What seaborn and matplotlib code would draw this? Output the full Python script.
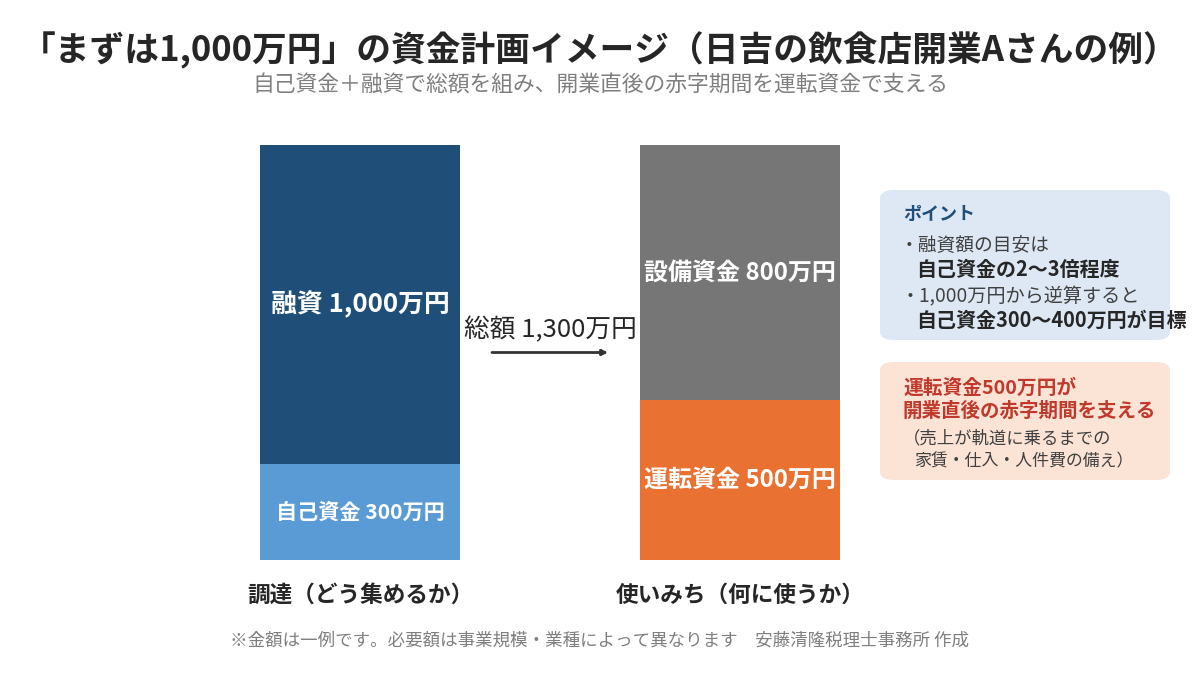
import pandas as pd
import seaborn as sns
import matplotlib.pyplot as plt
from matplotlib.patches import FancyBboxPatch

sns.set_theme(style="white")
plt.rcParams['font.family'] = ['Noto Sans CJK JP', 'DejaVu Sans']

# データ
categories = ["調達（どう集めるか）", "使いみち（何に使うか）"]
bottom_names = ["自己資金", "運転資金"]
bottom_values = [300, 500]
top_names = ["融資", "設備資金"]
top_values = [1000, 800]
total_label = "総額 1,300万円"

c_top = ["#1f4e79", "#767676"]
c_bottom = ["#5b9bd5", "#e97132"]

df = pd.DataFrame({
    "cat": categories,
    "bottom": bottom_values,
    "top": top_values,
})
df["total"] = df["bottom"] + df["top"]

fig = plt.figure(figsize=(12, 6.75), dpi=100)
ax = fig.add_axes([170 / 1200, 115 / 675, 760 / 1200, 415 / 675])

# 積み上げ棒（合計→下段の順で重ねる）
sns.barplot(data=df, x="cat", y="total", hue="cat", palette=c_top,
            width=200 / 380, legend=False, ax=ax, saturation=1, linewidth=0)
sns.barplot(data=df, x="cat", y="bottom", hue="cat", palette=c_bottom,
            width=200 / 380, legend=False, ax=ax, saturation=1, linewidth=0)

ax.set_xlim(-0.5, 1.5)
ax.set_ylim(0, 1300)
ax.set_xlabel("")
ax.set_ylabel("")
ax.set_yticks([])
ax.tick_params(axis="x", length=0, pad=17)
for lbl in ax.get_xticklabels():
    lbl.set_fontsize(16.3)
    lbl.set_fontweight("bold")
    lbl.set_color("#262626")
sns.despine(ax=ax, left=True, bottom=True)

# 棒の中のラベル
top_sizes = [18.6, 17.3]
bottom_sizes = [15.2, 17.3]
for i in range(len(categories)):
    b = bottom_values[i]
    t = top_values[i]
    ax.text(i, b + t / 2, f"{top_names[i]} {t:,}万円", ha="center", va="center",
            color="white", fontsize=top_sizes[i], fontweight="bold")
    ax.text(i, b / 2, f"{bottom_names[i]} {b:,}万円", ha="center", va="center",
            color="white", fontsize=bottom_sizes[i], fontweight="bold")

# 総額と矢印
ax.text(0.5, 720, total_label, ha="center", va="center", fontsize=18.5,
        color="#262626")
ax.annotate("", xy=(0.66, 650), xytext=(0.34, 650),
            arrowprops=dict(arrowstyle="-|>", color="#333333", lw=2,
                            mutation_scale=8))

# タイトル
fig.text(0.5, 1 - 50 / 675, "「まずは1,000万円」の資金計画イメージ（日吉の飲食店開業Aさんの例）",
         ha="center", va="center", fontsize=25, fontweight="bold", color="#262626")
fig.text(0.5, 1 - 86 / 675, "自己資金＋融資で総額を組み、開業直後の赤字期間を運転資金で支える",
         ha="center", va="center", fontsize=15.7, color="#7f7f7f")

# ポイント枠
box1 = FancyBboxPatch((880 / 1200, 1 - 340 / 675), 290 / 1200, 150 / 675,
                      boxstyle="round,pad=0,rounding_size=0.012",
                      transform=fig.transFigure, facecolor="#dde8f4",
                      edgecolor="none")
fig.patches.append(box1)
fig.text(903 / 1200, 1 - 214 / 675, "ポイント", fontsize=13, fontweight="bold",
         color="#1f4e79", va="center")
fig.text(900 / 1200, 1 - 245 / 675, "・融資額の目安は", fontsize=13.5,
         color="#404040", va="center")
fig.text(916 / 1200, 1 - 269 / 675, "自己資金の2〜3倍程度", fontsize=14.4,
         fontweight="bold", color="#262626", va="center")
fig.text(900 / 1200, 1 - 297 / 675, "・1,000万円から逆算すると", fontsize=13.8,
         color="#404040", va="center")
fig.text(916 / 1200, 1 - 320 / 675, "自己資金300〜400万円が目標", fontsize=14.4,
         fontweight="bold", color="#262626", va="center")

# 運転資金枠
box2 = FancyBboxPatch((880 / 1200, 1 - 480 / 675), 290 / 1200, 118 / 675,
                      boxstyle="round,pad=0,rounding_size=0.012",
                      transform=fig.transFigure, facecolor="#fbe3d6",
                      edgecolor="none")
fig.patches.append(box2)
fig.text(903 / 1200, 1 - 388 / 675, "運転資金500万円が", fontsize=14.2,
         fontweight="bold", color="#c0392b", va="center")
fig.text(903 / 1200, 1 - 411 / 675, "開業直後の赤字期間を支える", fontsize=14,
         fontweight="bold", color="#c0392b", va="center")
fig.text(903 / 1200, 1 - 438 / 675, "（売上が軌道に乗るまでの", fontsize=12.5,
         color="#404040", va="center")
fig.text(914 / 1200, 1 - 461 / 675, "家賃・仕入・人件費の備え）", fontsize=12.2,
         color="#404040", va="center")

# 注記
fig.text(0.5, 1 - 641 / 675,
         "※金額は一例です。必要額は事業規模・業種によって異なります　安藤清隆税理士事務所 作成",
         ha="center", va="center", fontsize=12.6, color="#7f7f7f")

fig.savefig("out.png", dpi=100)
